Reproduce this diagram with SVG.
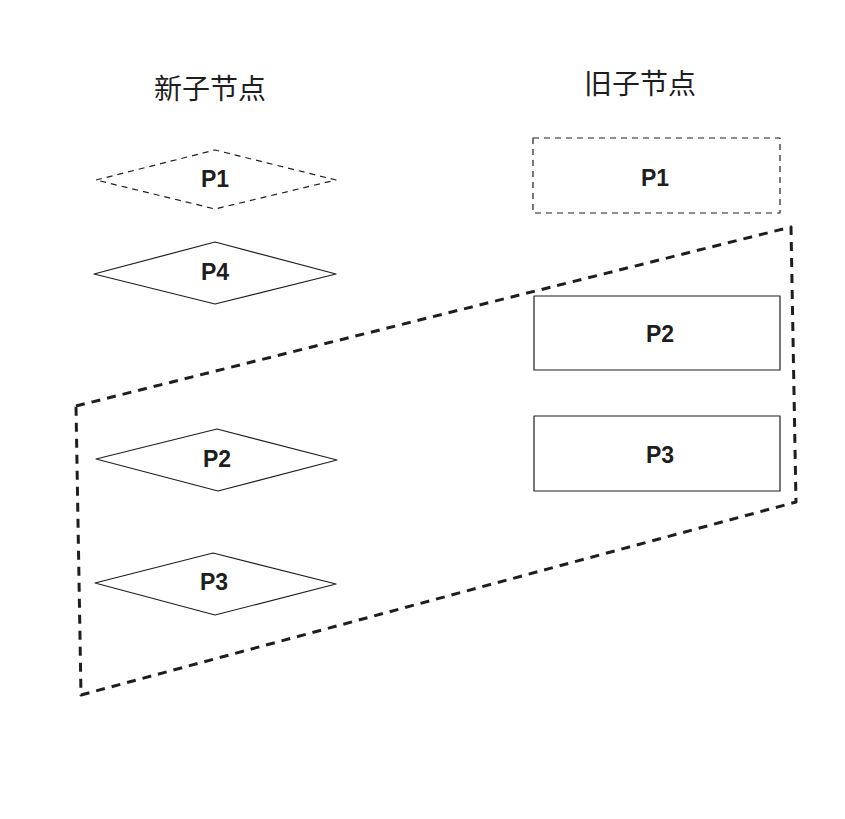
<svg xmlns="http://www.w3.org/2000/svg" width="845" height="819" viewBox="0 0 845 819">
<style>
.shape{fill:none;stroke:#1e1e1e;stroke-width:1.2;stroke-linejoin:round}
.dash{stroke-dasharray:6 5}
.lbl{font-family:"Liberation Sans","DejaVu Sans",sans-serif;font-size:23px;font-weight:bold;fill:#1e1e1e;text-anchor:middle;dominant-baseline:central}
.title{font-family:"Noto Sans CJK SC",sans-serif;font-size:28px;fill:#1e1e1e;text-anchor:middle;dominant-baseline:central}
.group{fill:none;stroke:#1e1e1e;stroke-width:3;stroke-dasharray:9 7;stroke-linejoin:round}
</style>
<rect width="845" height="819" fill="#ffffff"/>
<text class="title" x="210" y="87">新子节点</text>
<text class="title" x="640" y="82">旧子节点</text>
<g id="new-p1"><polygon class="shape dash" points="96,180 215,150 336,180 215,209"/><text class="lbl" x="215" y="179">P1</text></g>
<g id="new-p4"><polygon class="shape" points="94,274 215,242 336,274 215,304"/><text class="lbl" x="215" y="272">P4</text></g>
<g id="new-p2"><polygon class="shape" points="96,459 217,429 337,460 218,491"/><text class="lbl" x="217" y="459">P2</text></g>
<g id="new-p3"><polygon class="shape" points="95,583 213,553 336,584 215,615"/><text class="lbl" x="214" y="582">P3</text></g>
<g id="old-p1"><rect class="shape dash" x="533" y="138" width="247" height="75"/><text class="lbl" x="655" y="178">P1</text></g>
<g id="old-p2"><rect class="shape" x="534" y="296" width="246" height="74"/><text class="lbl" x="660" y="334">P2</text></g>
<g id="old-p3"><rect class="shape" x="534" y="416" width="246" height="75"/><text class="lbl" x="660" y="455">P3</text></g>
<g id="connectors"><polygon class="group" points="76,406 791,227 796,502 81,695"/></g>
</svg>
